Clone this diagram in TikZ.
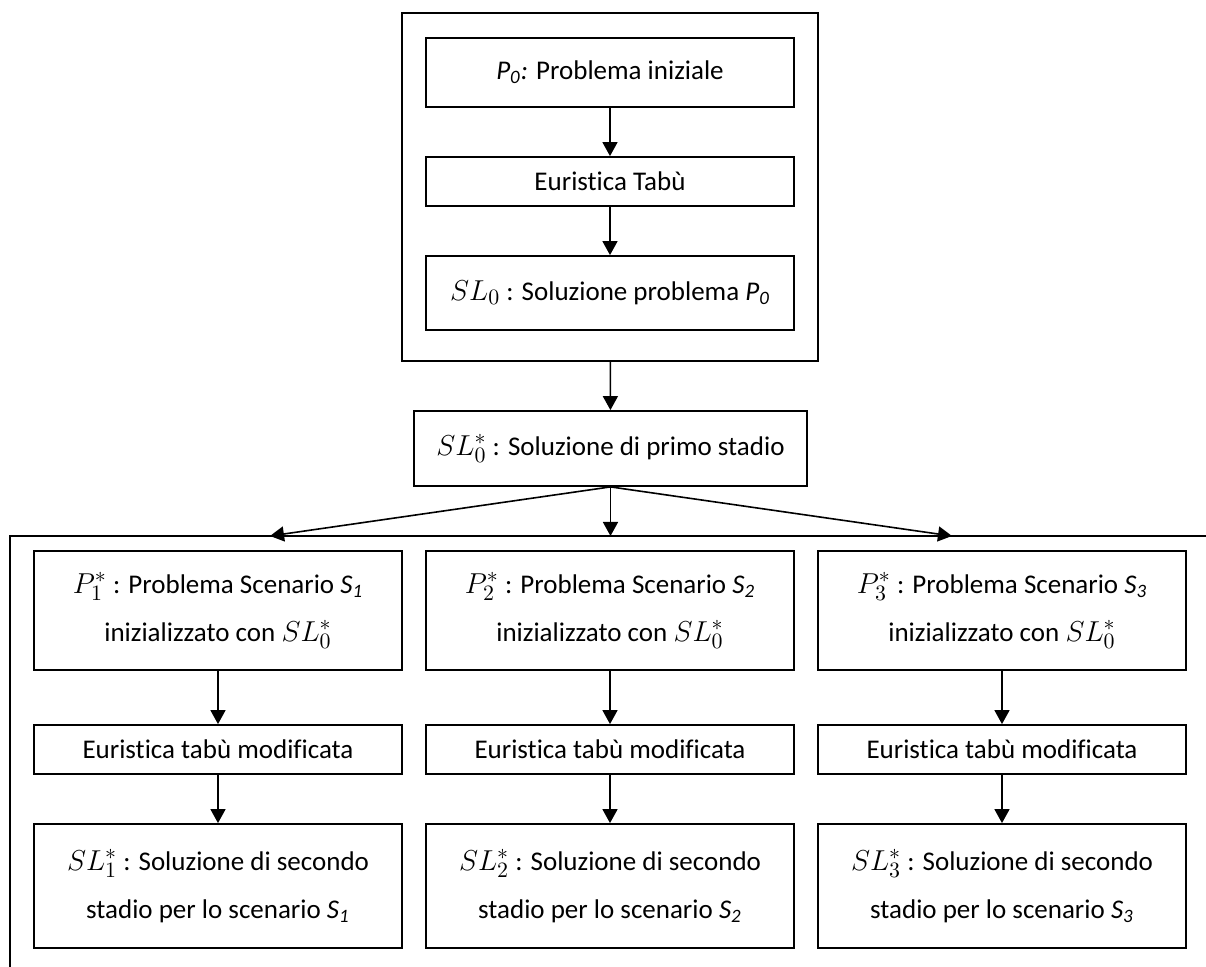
\documentclass[tikz,border=0pt]{standalone}
\usepackage{fontspec}
\setmainfont[Ligatures={NoCommon}]{Carlito}
\usepackage{tikz}
\usetikzlibrary{positioning, arrows.meta}

\newcommand{\formula}[1]{{\fontsize{15}{24}\selectfont$#1$}}

\begin{document}
\begin{tikzpicture}[x=0.5pt, y=-0.5pt,
            blocco/.style={draw=black, line width=0.9pt, rectangle, minimum width=184pt, inner sep=0pt, align=center, font=\fontsize{13.5}{24}\selectfont},
            cornice/.style={draw=black, line width=0.9pt},
            freccia/.style={line width=0.8pt, -{Triangle[length=7pt, width=7.5pt]}}
        ]
        \useasboundingbox (0,0) rectangle (1206,967);

        % Primo stadio
        \node[blocco, minimum width=208pt, minimum height=174pt] (fase1) at (610,187) {};
        \node[blocco, minimum height=34.5pt] (p0) at (610,72.5) {\textit{P\textsubscript{0}:} Problema iniziale};
        \node[blocco, minimum height=24.5pt] (tabu) at (610,181.5) {Euristica Tabù};
        \node[blocco, minimum height=37pt] (sl0) at (610,293) {\formula{SL_0} : Soluzione problema \textit{P\textsubscript{0}}};
        \node[blocco, minimum width=196.5pt, minimum height=37.5pt] (sl0s) at (610.5,448.5) {\formula{SL_0^*} : Soluzione di primo stadio};

        \draw[freccia] (p0) -- (tabu);
        \draw[freccia] (tabu) -- (sl0);
        \draw[freccia] (fase1) -- (sl0s);

        % Secondo stadio
        \coordinate (fA) at (10,967);
        \coordinate (fB) at (10,536);
        \coordinate (fC) at (1206,536);
        \draw[cornice] (fA) -- (fB) -- (fC);

        \coordinate (t1) at (270,536);
        \coordinate (t2) at (610.5,536);
        \coordinate (t3) at (952,536);
        \foreach \t in {t1, t2, t3}
            \draw[freccia] (sl0s.south) -- (\t);

        \foreach \i/\xc in {1/218, 2/610, 3/1002} {
            \node[blocco, minimum height=59.5pt] (p\i) at (\xc,610.5) {\formula{P_{\i}^*} : Problema Scenario \textit{S\textsubscript{\i}}\\ inizializzato con \formula{SL_0^*}};
            \node[blocco, minimum height=24.5pt] (e\i) at (\xc,749.5) {Euristica tabù modificata};
            \node[blocco, minimum height=62pt] (s\i) at (\xc,886) {\formula{SL_{\i}^*} : Soluzione di secondo\\ stadio per lo scenario \textit{S\textsubscript{\i}}};
            \draw[freccia] (p\i) -- (e\i);
            \draw[freccia] (e\i) -- (s\i);
        }

    \end{tikzpicture}
\end{document}
